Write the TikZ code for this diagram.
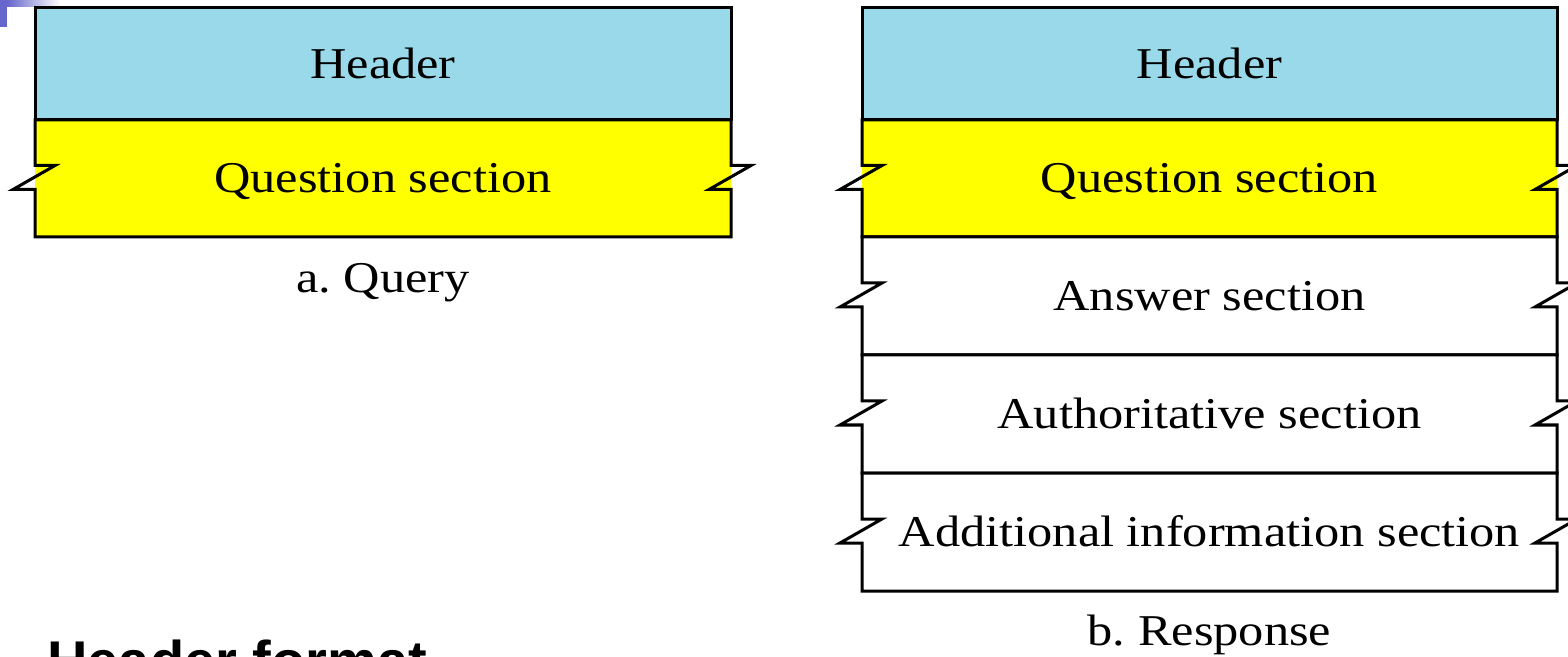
\documentclass[tikz,border=0pt]{standalone}
\usepackage{fontspec}
\setmainfont{Liberation Serif}[FakeStretch=1.145]
\newfontfamily\slidefont{Liberation Sans}
\usepackage{xcolor}
\definecolor{headerblue}{RGB}{153,217,234}
\definecolor{questionyellow}{RGB}{255,255,0}
\definecolor{slideblue}{RGB}{102,102,204}
\tikzstyle{part}=[draw=black, line width=1.5pt, line join=miter]
\tikzset{parttext/.style={inner sep=0pt, text height=14.5pt, text depth=0pt, font=\fontsize{22}{26}\selectfont}}
\tikzset{captext/.style={anchor=base, inner sep=0pt, font=\fontsize{22}{26}\selectfont}}
% one message section with a break mark on both sides: fill, left x, right x, top y, bottom y
\newcommand{\breakpart}[5]{%
  \pgfmathsetmacro\partmid{(#4+#5)/2-1}
  \fill[#1] (#2,#4) rectangle (#3,#5);
  \draw[part] (#2,#4) -- (#3,#4) -- (#3,\partmid-12) -- (#3+20,\partmid-12)
    -- (#3-22,\partmid+12) -- (#3,\partmid+12) -- (#3,#5) -- (#2,#5) -- (#2,\partmid+12)
    -- (#2-22,\partmid+12) -- (#2+20,\partmid-12) -- (#2,\partmid-12) -- cycle;}

\begin{document}
\begin{tikzpicture}[x=0.5pt,y=-0.5pt]
  \useasboundingbox (0,0) rectangle (1568,657);
  \clip (0,0) rectangle (1568,657);
  \fill[white] (0,0) rectangle (1568,657);

  %% slide corner
  \fill[slideblue] (0,0) rectangle (7,27);
  \shade[left color=slideblue, right color=white] (7,0) rectangle (60,7);

  %% a. Query
  \filldraw[part,fill=headerblue] (35,8) rectangle (731,120);
  \breakpart{questionyellow}{35}{731}{120}{237}
  \draw (383,64) node[parttext] (qhead) {Header};
  \draw (383,178.5) node[parttext] (qquest) {Question section};
  \draw (383,293) node[captext] (qcap) {a.\ Query};

  %% b. Response
  \filldraw[part,fill=headerblue] (862,8) rectangle (1557,120);
  \breakpart{questionyellow}{862}{1557}{120}{237}
  \breakpart{white}{862}{1557}{237}{355}
  \breakpart{white}{862}{1557}{355}{473}
  \breakpart{white}{862}{1557}{473}{591}
  \draw (1209.5,64) node[parttext] (rhead) {Header};
  \draw (1209.5,178.5) node[parttext] (rquest) {Question section};
  \draw (1209.5,296) node[parttext] (rans) {Answer section};
  \draw (1209.5,414) node[parttext] (rauth) {Authoritative section};
  \draw (1209.5,532) node[parttext] (radd) {Additional information section};
  \draw (1209.5,645) node[captext] (rcap) {b.\ Response};

  %% slide title, cut by the page edge
  \draw (47,680) node[anchor=base west, inner sep=0pt, font=\slidefont\bfseries\fontsize{28}{32}\selectfont] (title) {Header format};
\end{tikzpicture}
\end{document}
